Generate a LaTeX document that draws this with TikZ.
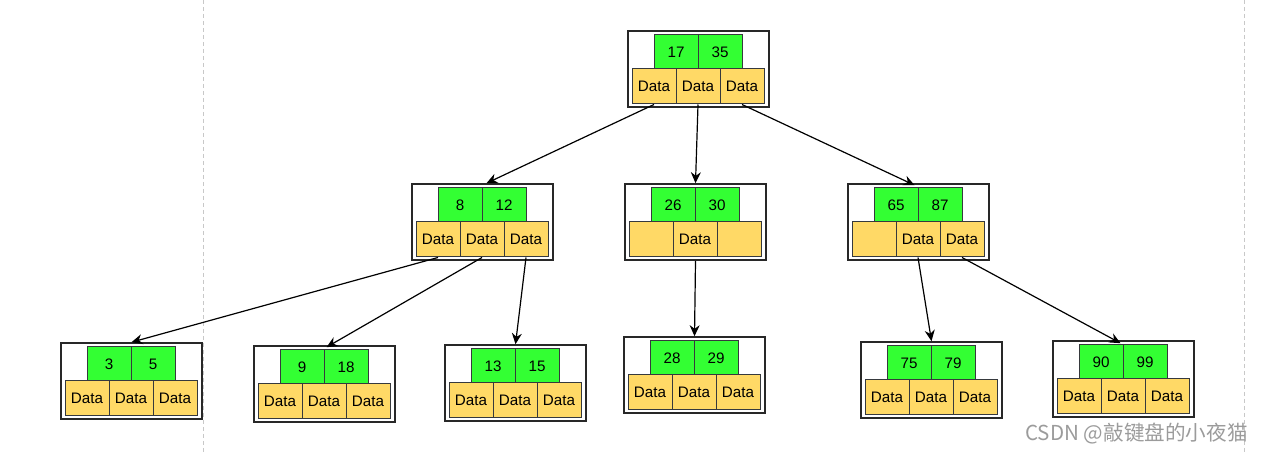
\documentclass[tikz,border=0pt]{standalone}
\usepackage{fontspec}
\setmainfont{Liberation Sans}
\newfontfamily\cjkfont{Noto Sans CJK SC}
\usepackage{tikz}
\usetikzlibrary{arrows.meta, positioning}
\definecolor{keygreen}{RGB}{51,255,51}
\definecolor{datayellow}{RGB}{255,217,102}
\definecolor{celldark}{RGB}{54,57,61}
\definecolor{boxdark}{RGB}{40,40,40}
\definecolor{guidegray}{RGB}{200,200,200}
\definecolor{markgray}{RGB}{155,155,155}
\tikzset{
  outerbox/.style={rectangle, draw=boxdark, fill=white, line width=0.8pt,
    minimum width=70.5pt, minimum height=38pt, inner sep=0pt},
  keycell/.style={rectangle, draw=celldark, fill=keygreen, line width=0.5pt,
    minimum width=22pt, minimum height=17pt, inner sep=0pt, font=\fontsize{7.6}{9}\selectfont},
  datacell/.style={rectangle, draw=celldark, fill=datayellow, line width=0.5pt,
    minimum width=22pt, minimum height=17.5pt, inner sep=0pt, font=\fontsize{7.6}{9}\selectfont},
  arrow/.style={-{Stealth[length=5.5pt, width=5pt]}, line width=0.6pt, color=black},
  guide/.style={draw=guidegray, line width=0.5pt, dash pattern=on 2pt off 1.5pt},
  watermark/.style={text=markgray, font=\cjkfont\fontsize{10.3}{12}\selectfont, inner sep=0pt}
}
% one B-tree node: name, top-left corner, two keys, three data cells
\newcommand{\btreenode}[8]{%
  \begin{scope}[shift={(#2,#3)}]
    \node[outerbox] (#1) at (70.5,38) {};
    \node[keycell] (#1-k1) at (48,21) {#4};
    \node[keycell] (#1-k2) at (92,21) {#5};
    \node[datacell] (#1-d1) at (26,55.5) {#6};
    \node[datacell] (#1-d2) at (70,55.5) {#7};
    \node[datacell] (#1-d3) at (114,55.5) {#8};
  \end{scope}}

\begin{document}
\begin{tikzpicture}[x=0.5pt, y=-0.5pt]
  \useasboundingbox (0,0) rectangle (1262,453);

  % Guide lines
  \draw[guide] (203,0) -- (203,453);
  \draw[guide] (1244,0) -- (1244,453);

  % Root
  \btreenode{root}{628}{31}{17}{35}{Data}{Data}{Data}

  % Level 2
  \btreenode{n812}{412}{184}{8}{12}{Data}{Data}{Data}
  \btreenode{n2630}{625}{184}{26}{30}{}{Data}{}
  \btreenode{n6587}{848}{184}{65}{87}{}{Data}{Data}

  % Leaves
  \btreenode{l35}{61}{343}{3}{5}{Data}{Data}{Data}
  \btreenode{l918}{254}{346}{9}{18}{Data}{Data}{Data}
  \btreenode{l1315}{445}{345}{13}{15}{Data}{Data}{Data}
  \btreenode{l2829}{624}{337}{28}{29}{Data}{Data}{Data}
  \btreenode{l7579}{861}{342}{75}{79}{Data}{Data}{Data}
  \btreenode{l9099}{1053}{341}{90}{99}{Data}{Data}{Data}

  % Pointers
  \draw[arrow] (root-d1.south) -- ([xshift=2pt]n812.north);
  \draw[arrow] (root-d2.south) -- (n2630.north);
  \draw[arrow] (root-d3.south) -- ([xshift=-2pt,yshift=-1pt]n6587.north);
  \draw[arrow] (n812-d1.south) -- (l35.north);
  \draw[arrow] (n812-d2.south) -- ([xshift=1pt,yshift=-1pt]l918.north);
  \draw[arrow] (n812-d3.south) -- (l1315.north);
  \draw[arrow] (n2630.south) -- (l2829.north);
  \draw[arrow] (n6587-d2.south) -- (l7579.north);
  \draw[arrow] (n6587-d3.south) -- ([xshift=-1.5pt,yshift=-1.5pt]l9099.north);

  % Watermark
  \node[watermark, anchor=east] (credit) at (1248,434) {CSDN @敲键盘的小夜猫};
\end{tikzpicture}
\end{document}
